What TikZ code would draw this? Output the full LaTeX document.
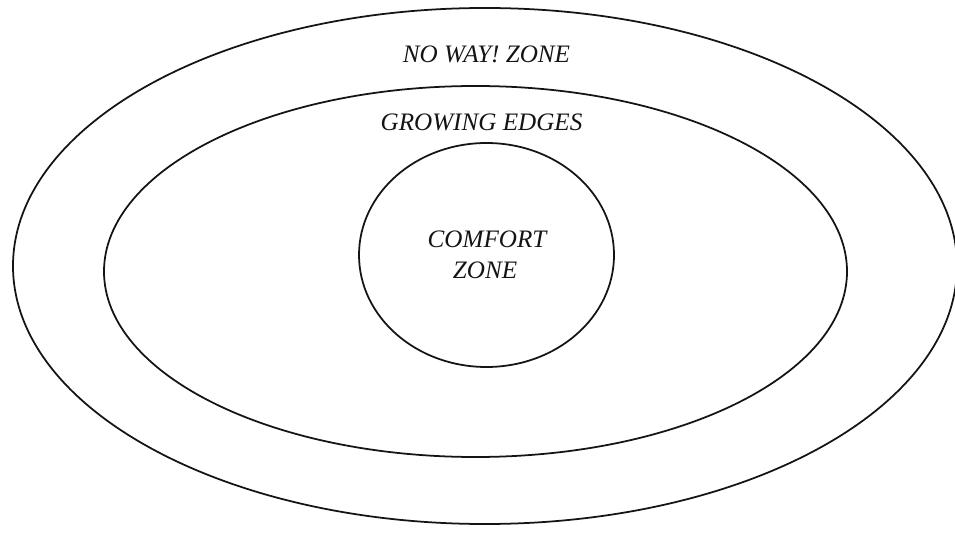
\documentclass[tikz,border=0pt]{standalone}
\usepackage{fontspec}
\setmainfont{Liberation Serif}
\usepackage{tikz}
\usetikzlibrary{positioning}
\usepackage{xcolor}
\definecolor{myink}{RGB}{20,20,20}

\begin{document}
\begin{tikzpicture}[x=0.02cm,y=-0.02cm,
    zoneline/.style={myink,line width=1pt},
    zonelabel/.style={font=\fontsize{14.3}{17}\selectfont\itshape,text=myink,align=center,inner sep=0pt}]
    \useasboundingbox (0,0) rectangle (955,533);
    \fill[white] (0,0) rectangle (955,533);
    \draw[zoneline] (485,266) ellipse [x radius=472,y radius=258];
    \draw[zoneline] (475.5,271.5) ellipse [x radius=371.5,y radius=185.5];
    \draw[zoneline] (486.5,255) ellipse [x radius=127.5,y radius=112];
    \node[zonelabel,anchor=base] (noway) at (486.5,63) {NO WAY! ZONE};
    \node[zonelabel,anchor=base] (growing) at (481.5,130.5) {GROWING EDGES};
    \node[zonelabel,anchor=base] (comfort) at (487,248) {COMFORT};
    \node[zonelabel,anchor=base] (comfortb) at (485,278) {ZONE};
  \end{tikzpicture}
\end{document}
